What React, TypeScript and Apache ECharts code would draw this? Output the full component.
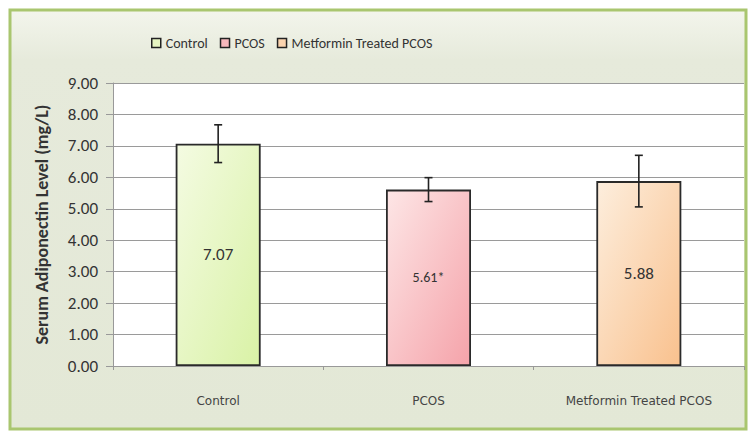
import React, { useEffect, useRef } from "react";
import * as echarts from "echarts";

const categories = ["Control", "PCOS", "Metformin Treated PCOS"];
const means = [7.07, 5.61, 5.88];
const errors = [0.6, 0.38, 0.82];
const barLabels = ["7.07", "5.61*", "5.88"];
const yTicks = [0, 1, 2, 3, 4, 5, 6, 7, 8, 9];
const yAxisTitle = "Serum Adiponectin Level (mg/L)";

const gradients = [
  ["#f4fbe2", "#d9f2a6"],
  ["#fde6e6", "#f5a3aa"],
  ["#fdeedd", "#f9c18e"],
];
const legendColors = ["#e6f5c2", "#f7b8bc", "#fad3ae"];

const FONT = "'Liberation Sans Narrow', Carlito, 'Liberation Sans', sans-serif";

export default function App() {
  const ref = useRef<HTMLDivElement>(null);
  useEffect(() => {
    const chart = echarts.init(ref.current!, undefined, { renderer: "svg" });
    const barSeries = categories.map((name, i) => ({
      name,
      type: "bar",
      barWidth: 85,
      barGap: "-100%",
      data: categories.map((_, j) =>
        j === i
          ? {
              value: means[i],
              itemStyle: {
                color: new echarts.graphic.LinearGradient(0, 0, 1, 1, [
                  { offset: 0, color: gradients[i][0] },
                  { offset: 1, color: gradients[i][1] },
                ]),
                borderColor: "#2a2a2a",
                borderWidth: 1.8,
              },
            }
          : "-"
      ),
      color: legendColors[i],
      label: {
        show: true,
        position: "inside",
        formatter: () => barLabels[i],
        color: "#333",
        fontSize: i === 1 ? 14 : 17,
        fontFamily: FONT,
      },
      z: 2,
    }));
    const errSeries = {
      type: "custom",
      name: "err",
      z: 5,
      data: means.map((m, i) => [i, m - errors[i], m + errors[i]]),
      renderItem: (params: any, api: any) => {
        const x = api.value(0);
        const lo = api.coord([x, api.value(1)]);
        const hi = api.coord([x, api.value(2)]);
        const cap = 4;
        const style = { stroke: "#222", lineWidth: 1.6 };
        return {
          type: "group",
          children: [
            { type: "line", shape: { x1: lo[0], y1: lo[1], x2: hi[0], y2: hi[1] }, style },
            { type: "line", shape: { x1: lo[0] - cap, y1: lo[1], x2: lo[0] + cap, y2: lo[1] }, style },
            { type: "line", shape: { x1: hi[0] - cap, y1: hi[1], x2: hi[0] + cap, y2: hi[1] }, style },
          ],
        };
      },
    };
    chart.setOption({
      animation: false,
      graphic: [
        {
          type: "rect",
          z: -10,
          silent: true,
          shape: { x: 10, y: 10, width: 736, height: 419 },
          style: {
            fill: new echarts.graphic.LinearGradient(0, 0, 0, 1, [
              { offset: 0, color: "#f3f5ec" },
              { offset: 0.12, color: "#e6eadb" },
              { offset: 1, color: "#e3e8d6" },
            ]),
            stroke: "#a9c66f",
            lineWidth: 3,
          },
        },
      ],
      legend: {
        left: 146,
        top: 31,
        itemWidth: 9,
        itemHeight: 9,
        itemGap: 12,
        icon: "rect",
        data: categories,
        itemStyle: { borderColor: "#222", borderWidth: 1.5 },
        textStyle: { fontSize: 14, color: "#333", fontFamily: FONT },
      },
      grid: {
        left: 113,
        right: 6,
        top: 83,
        bottom: 66,
        show: true,
        backgroundColor: "#ffffff",
        borderWidth: 0,
      },
      xAxis: {
        type: "category",
        data: categories,
        axisLine: { lineStyle: { color: "#999" } },
        axisTick: { show: true, length: 4, lineStyle: { color: "#999" } },
        axisLabel: {
          margin: 29,
          fontSize: 12,
          color: "#444",
          fontFamily: "'DejaVu Sans', sans-serif",
        },
      },
      yAxis: {
        type: "value",
        min: yTicks[0],
        max: yTicks[yTicks.length - 1],
        interval: 1,
        name: yAxisTitle,
        nameLocation: "middle",
        nameGap: 62,
        nameTextStyle: { fontSize: 18, fontWeight: "bold", color: "#333", fontFamily: FONT },
        axisLine: { show: true, lineStyle: { color: "#999" } },
        axisTick: { show: true, length: 7, lineStyle: { color: "#999" } },
        axisLabel: {
          formatter: (v: number) => v.toFixed(2),
          fontSize: 17,
          color: "#333",
          margin: 15,
          fontFamily: FONT,
        },
        splitLine: { lineStyle: { color: "#9a9a9a", width: 1.2 } },
      },
      series: [...barSeries, errSeries],
    });
    return () => chart.dispose();
  }, []);
  return <div ref={ref} style={{ width: 750, height: 432, position: "absolute", left: 0, top: 0 }} />;
}
